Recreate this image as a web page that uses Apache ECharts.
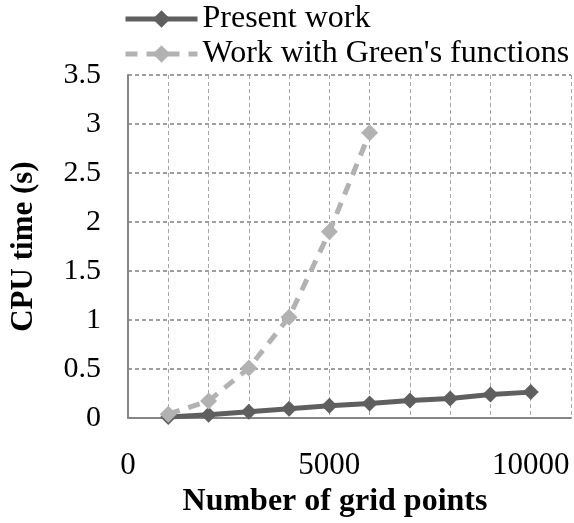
<!DOCTYPE html>
<html>
<head>
<meta charset="utf-8">
<script src="https://cdn.jsdelivr.net/npm/echarts@6/dist/echarts.min.js"></script>
<style>
  html, body { margin: 0; padding: 0; background: #fff; }
  #chart { width: 574px; height: 523px; }
</style>
</head>
<body>
<div id="chart"></div>
<script>
// du lieu doc tu hinh
const gridPoints = [1000, 2000, 3000, 4000, 5000, 6000, 7000, 8000, 9000, 10000];
const presentWork = [0.01, 0.035, 0.065, 0.095, 0.125, 0.15, 0.18, 0.2, 0.24, 0.265];
const greensPoints = [1000, 2000, 3000, 4000, 5000, 6000];
const greensWork = [0.04, 0.175, 0.51, 1.03, 1.9, 2.91];

const seriesNames = ['Present work', "Work with Green's functions"];

const pairs = (xs, ys) => xs.map((x, i) => [x, ys[i]]);

document.addEventListener('DOMContentLoaded', () => {
    const chart = echarts.init(document.getElementById('chart'));
    const serif = '"Liberation Serif", "DejaVu Serif", serif';
    const darkGray = '#5f5f5f';
    const lightGray = '#b2b2b2';

    const option = {
        animation: false,
        textStyle: { fontFamily: serif, color: '#000' },
        legend: {
            left: 118,
            top: -2,
            orient: 'vertical',
            itemWidth: 72,
            itemHeight: 22,
            itemGap: 3,
            textStyle: { fontFamily: serif, fontSize: 32, color: '#000' },
            data: [
                { name: seriesNames[0], lineStyle: { width: 5, color: darkGray } },
                { name: seriesNames[1], lineStyle: { width: 5, color: lightGray, type: [12, 9] } }
            ]
        },
        grid: { left: 125, top: 75, right: 0, bottom: 104, containLabel: false },
        xAxis: {
            type: 'value',
            min: 0,
            max: 11000,
            interval: 1000,
            name: 'Number of grid points',
            nameLocation: 'middle',
            nameGap: 64,
            nameTextStyle: { fontFamily: serif, fontSize: 32, fontWeight: 'bold', color: '#000', padding: [0, 29, 0, 0] },
            axisLine: { lineStyle: { color: '#868686', width: 2 } },
            axisTick: { show: false },
            axisLabel: {
                margin: 32,
                fontSize: 31,
                color: '#000',
                fontFamily: serif,
                formatter: v => (v % 5000 === 0 ? String(v) : '')
            },
            splitLine: { show: true, lineStyle: { color: '#a6a6a6', type: [4, 3], width: 1 } }
        },
        yAxis: {
            type: 'value',
            min: 0,
            max: 3.5,
            interval: 0.5,
            name: 'CPU time (s)',
            nameLocation: 'middle',
            nameGap: 89,
            nameTextStyle: { fontFamily: serif, fontSize: 31, fontWeight: 'bold', color: '#000' },
            axisLine: { show: true, lineStyle: { color: '#868686', width: 2 } },
            axisTick: { show: false },
            axisLabel: { margin: 27, fontSize: 30, color: '#000', fontFamily: serif },
            splitLine: { show: true, lineStyle: { color: '#808080', type: [4, 3], width: 1.5 } }
        },
        series: [
            {
                name: seriesNames[0],
                type: 'line',
                data: pairs(gridPoints, presentWork),
                symbol: 'diamond',
                symbolSize: 16,
                color: darkGray,
                lineStyle: { width: 5, color: darkGray },
                itemStyle: { color: darkGray }
            },
            {
                name: seriesNames[1],
                type: 'line',
                data: pairs(greensPoints, greensWork),
                symbol: 'diamond',
                symbolSize: 17,
                color: lightGray,
                lineStyle: { width: 5, color: lightGray, type: [12, 9] },
                itemStyle: { color: lightGray }
            }
        ]
    };

    chart.setOption(option);
});
</script>
</body>
</html>
